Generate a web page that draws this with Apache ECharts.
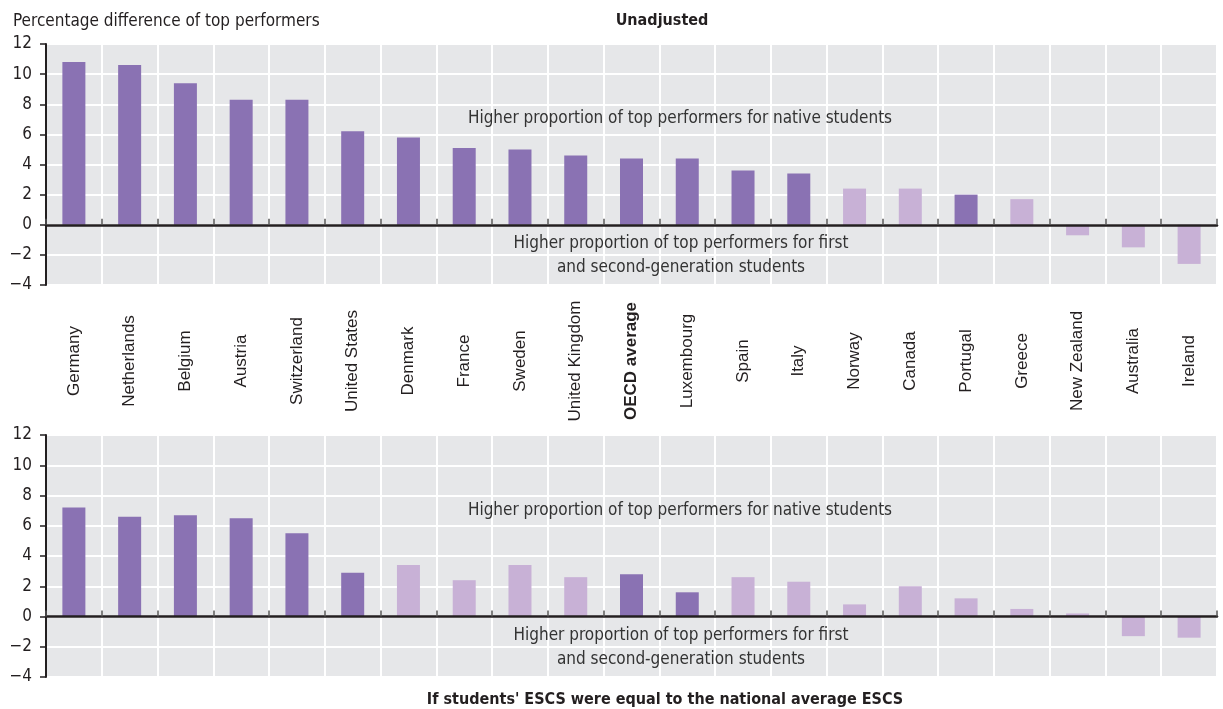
<!DOCTYPE html>
<html>
<head>
<meta charset="utf-8">
<script src="https://cdn.jsdelivr.net/npm/echarts@6/dist/echarts.min.js"></script>
<style>
html,body{margin:0;padding:0;background:#fff;}
#c{width:1223px;height:709px;}
</style>
</head>
<body>
<div id="c"></div>
<script>
// ---- Data ----
const categories = ["Germany","Netherlands","Belgium","Austria","Switzerland","United States","Denmark","France","Sweden","United Kingdom","OECD average","Luxembourg","Spain","Italy","Norway","Canada","Portugal","Greece","New Zealand","Australia","Ireland"];
const unadjusted = [10.8, 10.6, 9.4, 8.3, 8.3, 6.2, 5.8, 5.1, 5.0, 4.6, 4.4, 4.4, 3.6, 3.4, 2.4, 2.4, 2.0, 1.7, -0.7, -1.5, -2.6];
const unadjustedSignificant = [1,1,1,1,1,1,1,1,1,1,1,1,1,1,0,0,1,0,0,0,0];
const adjusted = [7.2, 6.6, 6.7, 6.5, 5.5, 2.9, 3.4, 2.4, 3.4, 2.6, 2.8, 1.6, 2.6, 2.3, 0.8, 2.0, 1.2, 0.5, 0.2, -1.3, -1.4];
const adjustedSignificant = [1,1,1,1,1,1,0,0,0,0,1,1,0,0,0,0,0,0,0,0,0];
const yMin = -4, yMax = 12, yStep = 2;

const titleTop = "Unadjusted";
const titleBottom = "If students' ESCS were equal to the national average ESCS";
const yAxisTitle = "Percentage difference of top performers";
const noteUp = "Higher proportion of top performers for native students";
const noteDown = "Higher proportion of top performers for first\nand second-generation students";

// ---- Style ----
const DARK = '#8a72b3', LIGHT = '#c8b1d6', BG = '#e6e7e9', INK = '#231f20';
const COND = "'Liberation Sans Narrow','DejaVu Sans Condensed','Roboto Condensed',sans-serif";
const REG = "'Liberation Sans',Arial,sans-serif";

function barData(vals, sig){
  return vals.map((v,i)=>({value:v, itemStyle:{color: sig[i] ? DARK : LIGHT}}));
}

const gridCommon = {left:46, right:6, show:true, backgroundColor:BG, borderWidth:0, containLabel:false};

function labelAxis(gi, showLabels){
  return {
    type:'category', gridIndex:gi, data:categories, position:'bottom',
    axisLine:{show:false, onZero:false}, axisTick:{show:false},
    splitLine:{show:true, interval:0, lineStyle:{color:'#ffffff', width:2}},
    axisLabel:{show:showLabels, interval:0, rotate:90, align:'center', verticalAlign:'middle',
      margin:76, fontFamily:REG, fontSize:17, color:INK,
      formatter:(v)=> v==='OECD average' ? '{b|'+v+'}' : v,
      rich:{b:{fontWeight:'bold', fontFamily:REG, fontSize:17, color:INK}}
    },
    z:0
  };
}
function zeroAxis(gi){
  return {
    type:'category', gridIndex:gi, data:categories, position:'bottom',
    axisLine:{show:true, onZero:true, lineStyle:{color:INK, width:2.5}},
    axisTick:{show:true, interval:0, inside:true, length:6, lineStyle:{color:'#555', width:1.5}},
    axisLabel:{show:false, interval:0}, splitLine:{show:false}, z:6
  };
}
function valAxis(gi){
  return {
    type:'value', gridIndex:gi, min:yMin, max:yMax, interval:yStep, position:'left',
    axisLine:{show:false},
    axisTick:{show:false},
    axisLabel:{margin:14, fontFamily:COND, fontSize:17, color:INK,
      formatter:(v)=> v<0 ? '\u2212'+Math.abs(v) : String(v)},
    splitLine:{show:true, lineStyle:{color:'#ffffff', width:2}},
    z:0
  };
}
function lineAxis(gi){
  return {
    type:'value', gridIndex:gi, min:yMin, max:yMax, interval:yStep, position:'left', offset:0,
    axisLine:{show:true, onZero:false, lineStyle:{color:INK, width:2}},
    axisTick:{show:true, length:6, lineStyle:{color:INK, width:1.5}},
    axisLabel:{show:false}, splitLine:{show:false},
    z:6
  };
}

const option = {
  animation:false,
  backgroundColor:'#ffffff',
  title:[
    {text:yAxisTitle, left:8, top:8, textStyle:{fontFamily:COND, fontSize:17, fontWeight:'normal', color:INK}},
    {text:titleTop, left:657, top:8, textAlign:'center', textStyle:{fontFamily:COND, fontSize:16, fontWeight:'bold', color:INK}},
    {text:titleBottom, left:660, top:687, textAlign:'center', textStyle:{fontFamily:COND, fontSize:16, fontWeight:'bold', color:INK}}
  ],
  grid:[
    Object.assign({top:44, height:241}, gridCommon),
    Object.assign({top:435, height:242}, gridCommon)
  ],
  xAxis:[labelAxis(0,true), zeroAxis(0), labelAxis(1,false), zeroAxis(1)],
  yAxis:[valAxis(0), lineAxis(0), valAxis(1), lineAxis(1)],
  series:[
    {type:'bar', xAxisIndex:0, yAxisIndex:0, data:barData(unadjusted, unadjustedSignificant), barWidth:23, z:3},
    {type:'bar', xAxisIndex:2, yAxisIndex:2, data:barData(adjusted, adjustedSignificant), barWidth:23, z:3}
  ],
  graphic:[
    {type:'text', x:680, y:119, z:10, style:{text:noteUp, font:'17px '+COND, fill:'#333', textAlign:'center', textVerticalAlign:'middle'}},
    {type:'text', x:681, y:256, z:10, style:{text:noteDown, font:'17px '+COND, fill:'#333', textAlign:'center', textVerticalAlign:'middle', lineHeight:24}},
    {type:'text', x:680, y:511, z:10, style:{text:noteUp, font:'17px '+COND, fill:'#333', textAlign:'center', textVerticalAlign:'middle'}},
    {type:'text', x:681, y:648, z:10, style:{text:noteDown, font:'17px '+COND, fill:'#333', textAlign:'center', textVerticalAlign:'middle', lineHeight:24}}
  ]
};

const chart = echarts.init(document.getElementById('c'), null, {renderer:'canvas'});
chart.setOption(option);
</script>
</body>
</html>
